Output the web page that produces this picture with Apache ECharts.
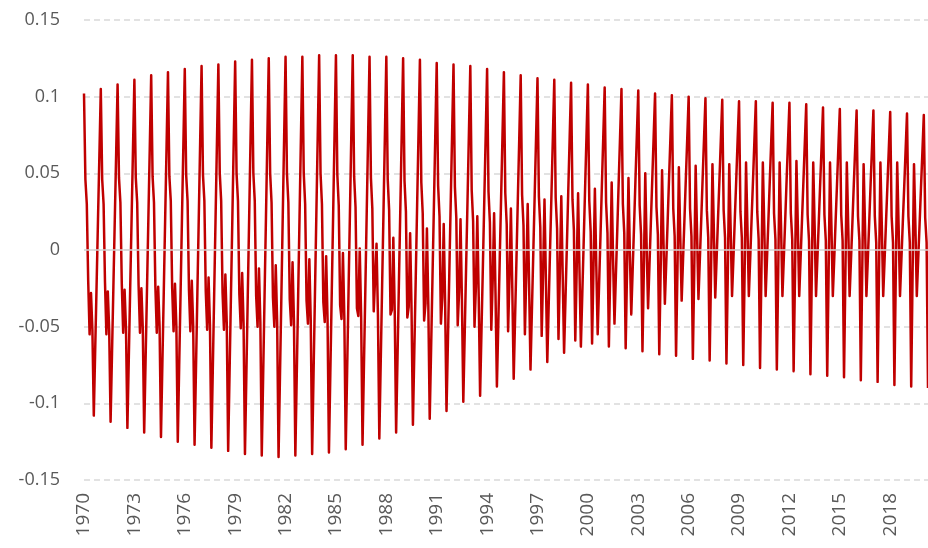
<!DOCTYPE html>
<html><head><meta charset="utf-8">
<script src="https://cdn.jsdelivr.net/npm/echarts/dist/echarts.min.js"></script>
<style>html,body{margin:0;padding:0;background:#fff}#c{width:928px;height:548px}</style>
</head><body><div id="c"></div><script>
const startYear = 1970;
// Monthly values of the seasonal series, one array per calendar month (index = year - 1970)
const jan = [0.102,0.105,0.108,0.111,0.114,0.116,0.118,0.120,0.121,0.123,
  0.124,0.125,0.126,0.126,0.127,0.127,0.127,0.126,0.126,0.125,
  0.124,0.122,0.121,0.120,0.118,0.116,0.114,0.112,0.111,0.109,
  0.108,0.106,0.105,0.104,0.102,0.101,0.100,0.099,0.098,0.097,
  0.097,0.096,0.096,0.095,0.093,0.092,0.091,0.091,0.090,0.089,
  0.088];
const feb = [0.046,0.046,0.047,0.047,0.048,0.048,0.049,0.049,0.050,0.050,
  0.050,0.050,0.050,0.050,0.050,0.049,0.048,0.047,0.046,0.045,
  0.044,0.042,0.041,0.039,0.038,0.037,0.036,0.035,0.034,0.033,
  0.032,0.031,0.030,0.029,0.028,0.027,0.027,0.026,0.026,0.025,
  0.025,0.024,0.024,0.023,0.023,0.023,0.022,0.022,0.022,0.022,
  0.021];
const mar = [0.030,0.030,0.031,0.031,0.031,0.032,0.032,0.032,0.032,0.032,
  0.032,0.031,0.031,0.030,0.030,0.029,0.028,0.027,0.026,0.025,
  0.024,0.022,0.021,0.019,0.018,0.017,0.016,0.015,0.014,0.013,
  0.012,0.011,0.011,0.010,0.010,0.009,0.009,0.008,0.008,0.008,
  0.007,0.007,0.007,0.006,0.006,0.006,0.006,0.005,0.005,0.005,
  0.005];
const apr = [-0.020,-0.021,-0.022,-0.023,-0.024,-0.025,-0.026,-0.027,-0.028,-0.029,
  -0.030,-0.031,-0.032,-0.033,-0.034,-0.036,-0.038,-0.040,-0.042,-0.044,
  -0.046,-0.048,-0.049,-0.050,-0.052,-0.053,-0.055,-0.056,-0.058,-0.059,
  -0.061,-0.063,-0.064,-0.066,-0.068,-0.069,-0.071,-0.072,-0.074,-0.075,
  -0.077,-0.078,-0.079,-0.081,-0.082,-0.083,-0.085,-0.086,-0.088,-0.089,
  -0.090];
const may = [-0.055,-0.055,-0.054,-0.054,-0.054,-0.053,-0.053,-0.052,-0.052,-0.051,
  -0.050,-0.050,-0.049,-0.048,-0.047,-0.045,-0.043,-0.041,-0.039,-0.037,
  -0.035,-0.031,-0.027,-0.024,-0.020,-0.018,-0.016,-0.015,-0.014,-0.013,
  -0.012,-0.012,-0.012,-0.012,-0.013,-0.013,-0.013,-0.014,-0.014,-0.014,
  -0.014,-0.014,-0.015,-0.015,-0.015,-0.015,-0.015,-0.015,-0.015,-0.015];
const jun = [-0.028,-0.027,-0.026,-0.025,-0.024,-0.022,-0.020,-0.018,-0.016,-0.015,
  -0.012,-0.010,-0.008,-0.006,-0.004,-0.002,0.001,0.004,0.008,0.011,
  0.014,0.017,0.020,0.022,0.024,0.027,0.030,0.033,0.035,0.037,
  0.040,0.044,0.047,0.050,0.052,0.054,0.055,0.056,0.056,0.057,
  0.057,0.057,0.058,0.057,0.057,0.057,0.056,0.057,0.057,0.056];
const jul = [-0.052,-0.052,-0.051,-0.051,-0.050,-0.050,-0.049,-0.049,-0.048,-0.048,
  -0.047,-0.047,-0.046,-0.046,-0.045,-0.044,-0.043,-0.042,-0.040,-0.038,
  -0.036,-0.034,-0.032,-0.030,-0.028,-0.025,-0.022,-0.019,-0.016,-0.013,
  -0.010,-0.006,-0.002,0.002,0.006,0.009,0.011,0.013,0.014,0.015,
  0.016,0.016,0.016,0.016,0.016,0.016,0.016,0.016,0.016,0.016];
const aug = [-0.108,-0.112,-0.116,-0.119,-0.122,-0.125,-0.127,-0.129,-0.131,-0.133,
  -0.134,-0.135,-0.134,-0.133,-0.132,-0.130,-0.127,-0.123,-0.119,-0.114,
  -0.110,-0.105,-0.099,-0.095,-0.089,-0.084,-0.078,-0.073,-0.067,-0.063,
  -0.055,-0.048,-0.042,-0.038,-0.035,-0.033,-0.032,-0.031,-0.030,-0.030,
  -0.030,-0.030,-0.030,-0.030,-0.030,-0.030,-0.030,-0.030,-0.030,-0.030];
const sep = [-0.065,-0.068,-0.071,-0.072,-0.074,-0.076,-0.078,-0.079,-0.080,-0.082,
  -0.082,-0.083,-0.082,-0.081,-0.080,-0.079,-0.076,-0.073,-0.070,-0.066,
  -0.064,-0.060,-0.055,-0.052,-0.048,-0.044,-0.040,-0.036,-0.032,-0.029,
  -0.023,-0.017,-0.013,-0.010,-0.008,-0.006,-0.006,-0.005,-0.005,-0.005,
  -0.005,-0.005,-0.005,-0.005,-0.006,-0.006,-0.006,-0.006,-0.006,-0.006];
const oct = [-0.023,-0.024,-0.025,-0.026,-0.027,-0.028,-0.028,-0.029,-0.029,-0.030,
  -0.030,-0.031,-0.030,-0.029,-0.028,-0.027,-0.026,-0.023,-0.021,-0.019,
  -0.017,-0.015,-0.011,-0.010,-0.007,-0.005,-0.002,0.001,0.003,0.005,
  0.009,0.013,0.016,0.018,0.019,0.020,0.020,0.021,0.021,0.021,
  0.020,0.020,0.020,0.019,0.019,0.018,0.018,0.018,0.018,0.017];
const nov = [0.020,0.020,0.020,0.021,0.021,0.021,0.021,0.021,0.021,0.021,
  0.021,0.022,0.022,0.023,0.023,0.024,0.025,0.026,0.027,0.029,
  0.029,0.031,0.032,0.033,0.034,0.035,0.036,0.037,0.039,0.040,
  0.042,0.044,0.046,0.046,0.047,0.047,0.047,0.046,0.046,0.046,
  0.046,0.046,0.045,0.044,0.043,0.043,0.043,0.042,0.041,0.041];
const dec = [0.062,0.064,0.066,0.067,0.068,0.069,0.071,0.071,0.072,0.073,
  0.073,0.074,0.074,0.075,0.075,0.076,0.075,0.076,0.076,0.076,
  0.076,0.076,0.076,0.075,0.075,0.074,0.074,0.074,0.074,0.074,
  0.074,0.074,0.075,0.074,0.074,0.073,0.073,0.072,0.072,0.072,
  0.071,0.071,0.070,0.068,0.068,0.067,0.067,0.066,0.065,0.064];
const yTicks = {min: -0.15, max: 0.15, step: 0.05};
const labelEvery = 36; // months between year labels

const months = [jan,feb,mar,apr,may,jun,jul,aug,sep,oct,nov,dec];
const categories = [], values = [];
for (let y = 0; y < jan.length; y++) {
  for (let m = 0; m < 12; m++) {
    if (y < months[m].length) {
      categories.push((startYear + y) + '-' + String(m + 1).padStart(2, '0'));
      values.push(months[m][y]);
    }
  }
}

const chart = echarts.init(document.getElementById('c'), null, {renderer: 'canvas'});
chart.setOption({
  animation: false,
  backgroundColor: '#ffffff',
  grid: {left: 84, right: 0, top: 20, bottom: 68, containLabel: false},
  xAxis: {
    type: 'category',
    data: categories,
    boundaryGap: false,
    axisLine: {show: false},
    axisTick: {show: false},
    splitLine: {show: false},
    axisLabel: {
      interval: labelEvery - 1,
      rotate: 90,
      margin: 13,
      color: '#595959',
      fontFamily: 'Open Sans',
      fontSize: 19,
      formatter: v => v.slice(0, 4)
    }
  },
  yAxis: {
    type: 'value',
    min: yTicks.min, max: yTicks.max, interval: yTicks.step,
    axisLine: {show: false},
    axisTick: {show: false},
    axisLabel: {
      margin: 24,
      color: '#595959',
      fontFamily: 'Open Sans',
      fontSize: 18,
      formatter: v => String(+v.toFixed(2))
    },
    splitLine: {show: true, lineStyle: {color: '#d9d9d9', width: 1.5, type: [6, 4]}}
  },
  series: [
    {
      type: 'line', data: [], z: 1, silent: true,
      markLine: {
        silent: true, symbol: 'none', label: {show: false},
        lineStyle: {color: '#d4d4d4', type: 'solid', width: 1.5},
        data: [{yAxis: 0}]
      }
    },
    {
      type: 'line',
      data: values,
      z: 3,
      showSymbol: false,
      symbol: 'none',
      sampling: null,
      lineStyle: {color: '#c00000', width: 2.5, join: 'round'},
      itemStyle: {color: '#c00000'}
    }
  ]
});
</script></body></html>
